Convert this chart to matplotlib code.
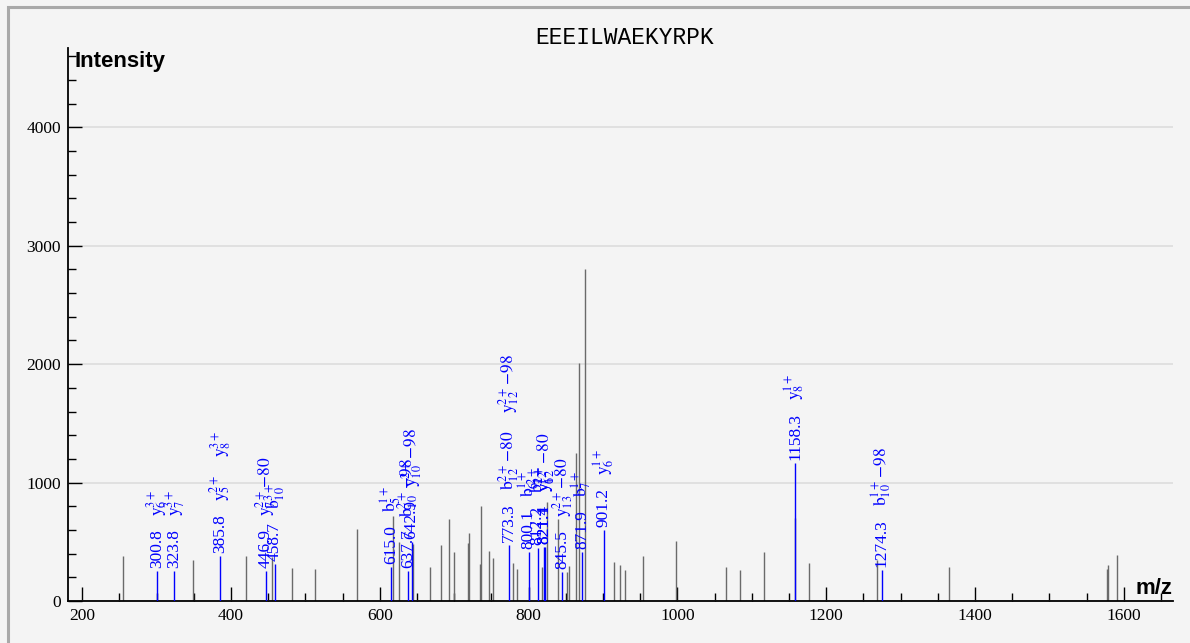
import matplotlib
matplotlib.use("Agg")
import matplotlib.pyplot as plt
from matplotlib.ticker import MultipleLocator
from matplotlib.patches import Rectangle

# ---------------- data ----------------
title_text = "EEEILWAEKYRPK"

# unannotated peaks
peak_mz = [254.7, 349.6, 420.0, 455.0, 481.8, 513.0, 569.0, 617.5, 626.4, 645.2,
           667.6, 682.0, 692.5, 700.0, 718.2, 720.4, 734.8, 735.7, 747.3, 752.7,
           779.5, 784.1, 817.6, 825.2, 839.6, 851.3, 854.3, 863.8, 867.4, 875.9,
           915.2, 922.5, 930.0, 954.2, 998.5, 1064.8, 1084.4, 1116.0, 1158.4, 1176.8,
           1267.6, 1364.4, 1577.0, 1578.0, 1590.6]
peak_int = [380, 350, 377, 370, 278, 267, 610, 715, 495, 480,
            288, 470, 690, 412, 487, 577, 312, 804, 422, 360,
            318, 267, 290, 840, 690, 245, 295, 1250, 2010, 2800,
            327, 304, 262, 380, 506, 285, 264, 412, 700, 320,
            345, 283, 270, 305, 388]

# annotated (matched) peaks
ion_mz = [300.8, 323.8, 385.8, 446.9, 458.7, 615.0, 637.7, 642.9, 773.3, 800.1,
          812.2, 821.1, 821.4, 845.5, 871.9, 901.2, 1158.3, 1274.3]
ion_int = [253, 253, 380, 253, 310, 285, 250, 500, 473, 415,
           445, 453, 458, 247, 416, 599, 1167, 265]
ion_names = [
    [r"$\mathrm{y}_{6}^{3+}$"],
    [r"$\mathrm{y}_{7}^{3+}$"],
    [r"$\mathrm{y}_{5}^{2+}$", r"$\mathrm{y}_{8}^{3+}$"],
    [r"$\mathrm{y}_{7}^{2+}\!-\!80$"],
    [r"$\mathrm{b}_{10}^{3+}$"],
    [r"$\mathrm{b}_{5}^{1+}$"],
    [r"$\mathrm{b}_{10}^{2+}\!-\!98$"],
    [r"$\mathrm{y}_{10}^{2+}\!-\!98$"],
    [r"$\mathrm{b}_{12}^{2+}\!-\!80$", r"$\mathrm{y}_{12}^{2+}\!-\!98$"],
    [r"$\mathrm{b}_{6}^{1+}$"],
    [r"$\mathrm{b}_{12}^{2+}$"],
    [r"$\mathrm{y}_{12}^{2+}$"],
    [r"$\mathrm{y}_{6}^{1+}\!-\!80$"],
    [r"$\mathrm{y}_{13}^{2+}\!-\!80$"],
    [r"$\mathrm{b}_{7}^{1+}$"],
    [r"$\mathrm{y}_{6}^{1+}$"],
    [r"$\mathrm{y}_{8}^{1+}$"],
    [r"$\mathrm{b}_{10}^{1+}\!-\!98$"],
]

x_label = "m/z"
y_label = "Intensity"

# ---------------- style ----------------
plt.rcParams["mathtext.fontset"] = "stix"
BG = "#f4f4f4"
W, H = 1190, 643

fig = plt.figure(figsize=(W / 100, H / 100), dpi=100, facecolor=BG)
ax = fig.add_axes([68 / W, 42 / H, 1105 / W, 553 / H])
ax.set_facecolor(BG)

# outer frame (left/top visible)
fig.patches.append(Rectangle((8 / W, -0.2), 1.5, 1.2 - 6.5 / H, transform=fig.transFigure,
                             fill=False, edgecolor="#a9a9a9", lw=2.2, zorder=0))

ax.set_xlim(181, 1666)
ax.set_ylim(0, 4670)

for s in ("top", "right"):
    ax.spines[s].set_visible(False)
for s in ("left", "bottom"):
    ax.spines[s].set_color("black")
    ax.spines[s].set_linewidth(1.3)

ax.xaxis.set_major_locator(MultipleLocator(200))
ax.xaxis.set_minor_locator(MultipleLocator(50))
ax.yaxis.set_major_locator(MultipleLocator(1000))
ax.yaxis.set_minor_locator(MultipleLocator(200))
ax.tick_params(which="major", direction="in", length=10, width=1, color="black",
               labelsize=12.5, pad=5)
ax.tick_params(which="minor", direction="in", length=6, width=1, color="black")
for lab in ax.get_xticklabels() + ax.get_yticklabels():
    lab.set_fontfamily("Liberation Serif")

ax.yaxis.grid(True, which="major", color="#dcdcdc", lw=1.2)
ax.set_axisbelow(True)

# peaks
ax.vlines(peak_mz, 0, peak_int, colors="#6a6a6a", lw=1.0, zorder=2)
ax.vlines(ion_mz, 0, ion_int, colors="#0000ff", lw=1.0, zorder=3)

# labels
fig.canvas.draw()
renderer = fig.canvas.get_renderer()
for mz, inten, names in zip(ion_mz, ion_int, ion_names):
    base_y = ax.transData.transform((mz, inten))[1]
    t = ax.annotate(f"{mz:.1f}", xy=(mz, inten), xytext=(0, 3), textcoords="offset pixels",
                    rotation=90, ha="center", va="bottom", color="#0000ff",
                    fontsize=12.5, fontfamily="Liberation Serif", zorder=4)
    bb = t.get_window_extent(renderer)
    off = bb.y1 - base_y + 13
    for nm in names:
        t2 = ax.annotate(nm, xy=(mz, inten), xytext=(0, off), textcoords="offset pixels",
                         rotation=90, ha="center", va="bottom", color="#0000ff",
                         fontsize=12.5, zorder=4)
        bb2 = t2.get_window_extent(renderer)
        off = bb2.y1 - base_y + 18

# axis titles
fig.text(75 / W, 1 - 62 / H, y_label, fontsize=16, fontweight="bold",
         fontfamily="Liberation Sans", ha="left", va="center")
fig.text(1172 / W, 1 - 589 / H, x_label, fontsize=16, fontweight="bold",
         fontfamily="Liberation Sans", ha="right", va="center")
fig.text(625 / W, 1 - 38 / H, title_text, fontsize=16.5,
         fontfamily="Liberation Mono", ha="center", va="center")

fig.savefig("out.png", dpi=100, facecolor=BG)
